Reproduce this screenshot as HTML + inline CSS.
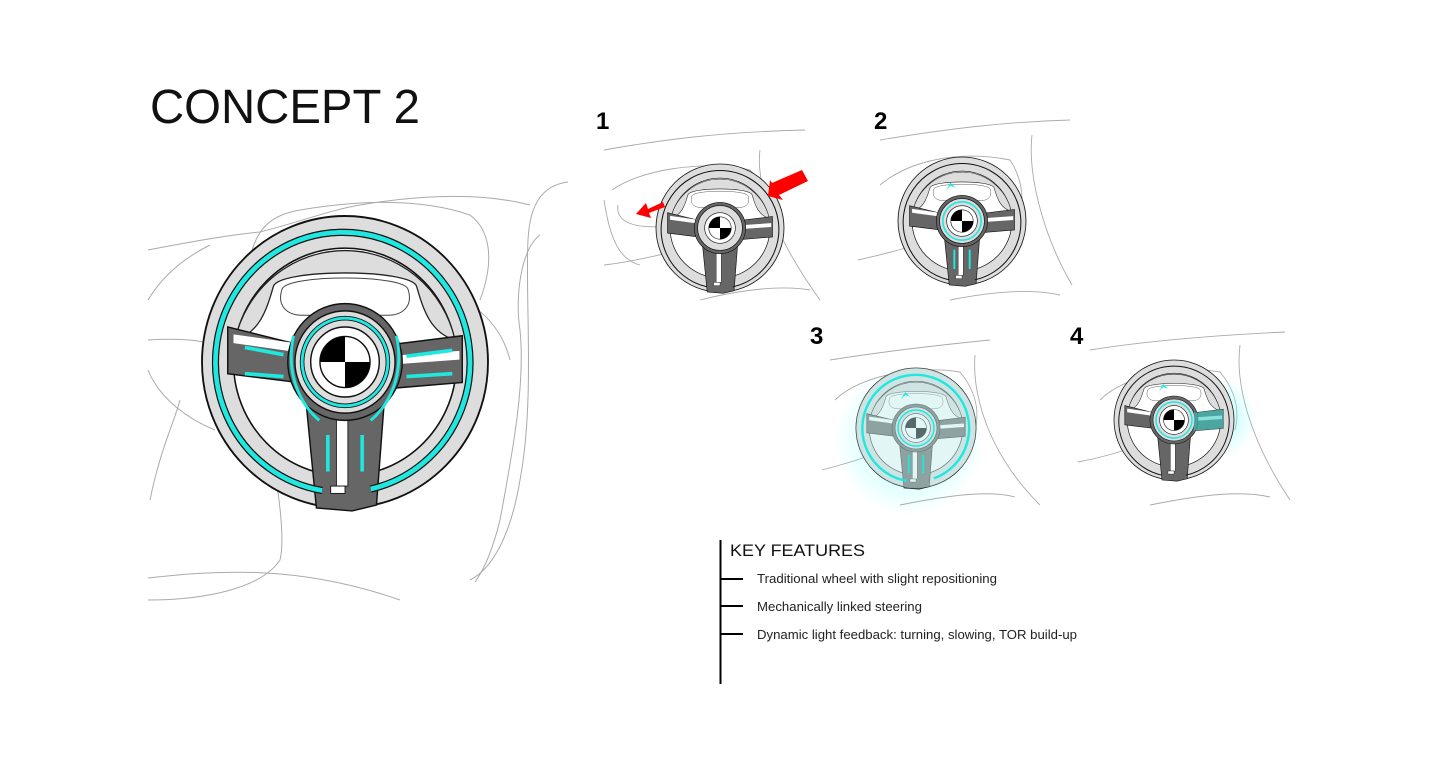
<!DOCTYPE html>
<html><head><meta charset="utf-8"><style>
html,body{margin:0;padding:0;background:#fff;}
svg{display:block;}
text{font-family:"Liberation Sans",sans-serif;}
</style></head><body>
<svg width="1440" height="760" viewBox="0 0 1440 760" xmlns="http://www.w3.org/2000/svg">
<defs>
  <radialGradient id="glow" cx="50%" cy="50%" r="50%">
    <stop offset="0" stop-color="#5ff" stop-opacity="0.5"/>
    <stop offset="1" stop-color="#5ff" stop-opacity="0"/>
  </radialGradient>
  <g id="wheel">
    <circle r="100" fill="#ddd" stroke="#111" stroke-width="1.3"/>
    <circle r="78" fill="#fff" stroke="#111" stroke-width="1.1"/>
    <path d="M-77,-15 C-60,-20 -55,-35 -50,-52 C-45,-64 45,-64 50,-52 C55,-35 60,-20 77,-15 A79 79 0 0 0 -77 -15 Z" fill="#ddd" stroke="#222" stroke-width="0.9"/>
    <path d="M-44,-50 C-40,-60 40,-60 44,-50 C48,-38 40,-32 30,-32 L-30,-32 C-40,-32 -48,-38 -44,-50 Z" fill="#fff" stroke="#444" stroke-width="0.7"/>
    <path d="M-82,-24 L-33,-12 L-33,14 L-82,8 Z" fill="#666" stroke="#111" stroke-width="1"/>
    <rect x="-78" y="-8" width="40" height="6" fill="#fff" transform="skewY(8)"/>
    <path d="M33,-12 L82,-18 L82,14 L33,18 Z" fill="#666" stroke="#111" stroke-width="1"/>
    <rect x="38" y="-2" width="42" height="6" fill="#fff" transform="skewY(-4)"/>
    <path d="M-28,20 L28,20 L22,98 L5,102 L-20,100 Z" fill="#666" stroke="#111" stroke-width="1"/>
    <rect x="-6" y="30" width="8" height="55" fill="#fff" stroke="#111" stroke-width="0.6"/>
    <rect x="-10" y="85" width="10" height="5" fill="#fff" stroke="#111" stroke-width="0.6"/>
    <circle r="40" fill="#666" stroke="#111" stroke-width="1"/>
    <circle r="35" fill="#ddd" stroke="#111" stroke-width="1"/>
    <circle r="24" fill="#fff" stroke="#111" stroke-width="1"/>
    <circle r="17.5" fill="#fff" stroke="#111" stroke-width="1"/>
    <path d="M0,0 L0,-17.5 A17.5 17.5 0 0 0 -17.5 0 Z M0,0 L17.5,0 A17.5 17.5 0 0 1 0 17.5 Z" fill="#000"/>
  </g>
</defs>

<text x="150" y="123" font-size="48" fill="#111" textLength="270" lengthAdjust="spacingAndGlyphs">CONCEPT 2</text>

<g fill="none" stroke="#aaa" stroke-width="1">
  <path d="M148,250 C200,240 230,235 260,232 C300,222 330,210 360,205 C420,195 480,192 530,205"/>
  <path d="M250,260 C255,230 270,215 300,210 C360,200 420,198 470,215 C490,230 495,260 480,300"/>
  <path d="M148,340 C180,338 200,340 215,345"/>
  <path d="M148,300 C160,280 180,260 210,245"/>
  <path d="M148,370 C160,400 190,420 215,430"/>
  <path d="M270,440 C280,500 285,540 280,560 C260,590 200,600 148,600"/>
  <path d="M148,578 C220,570 300,565 400,600"/>
  <path d="M568,182 C545,185 530,200 528,240 C525,300 535,400 520,480 C510,540 490,570 470,580"/>
  <path d="M540,235 C520,250 515,300 520,330 C525,380 515,440 500,520 C490,560 480,575 475,582"/>
  <path d="M150,500 C160,450 175,420 180,400"/>
  <path d="M440,290 C470,300 500,320 510,360"/>
</g>

<g transform="translate(345,362) scale(1.43,1.46)">
  <use href="#wheel"/>
  <path d="M-16,88 A89 89 0 1 1 18 87" fill="none" stroke="#111" stroke-width="5"/>
  <path d="M-16,88 A89 89 0 1 1 18 87" fill="none" stroke="#1ee8e0" stroke-width="3.3"/>
  <circle r="30" fill="none" stroke="#111" stroke-width="3.2"/>
  <circle r="30" fill="none" stroke="#1ee8e0" stroke-width="2"/>
  <path d="M-70,-10 L-43,-5 M-70,8 L-43,10 M43,-4 L75,-8 M43,10 L75,8 M-12,50 L-12,75 M12,50 L12,75" stroke="#1ee8e0" stroke-width="2.5"/>
  <path d="M-36,-18 C-42,10 -30,30 -18,40 M36,-18 C42,10 30,30 18,40" fill="none" stroke="#1ee8e0" stroke-width="2"/>
</g>

<g font-size="24" fill="#000">
  <text x="596" y="129" font-weight="900">1</text>
  <text x="874" y="129" font-weight="900">2</text>
  <text x="810" y="344" font-weight="900">3</text>
  <text x="1070" y="344" font-weight="900">4</text>
</g>

<g fill="none" stroke="#aaa" stroke-width="0.9">
  <path d="M604,150 C660,140 720,132 805,130"/>
  <path d="M612,190 C640,170 700,160 750,170 C765,185 770,200 768,220"/>
  <path d="M618,205 C615,225 640,230 680,225"/>
  <path d="M604,265 C630,262 660,255 680,250"/>
  <path d="M760,150 C756,180 770,230 820,300"/>
  <path d="M604,200 C610,240 620,260 640,265"/>
  <path d="M700,300 C740,290 780,285 810,290"/>
  <path d="M880,140 C940,130 1000,122 1070,120"/>
  <path d="M880,185 C910,160 960,150 1010,160 C1020,175 1025,195 1020,215"/>
  <path d="M1032,135 C1028,170 1040,230 1072,285"/>
  <path d="M858,260 C880,255 900,250 915,245"/>
  <path d="M950,300 C990,292 1030,288 1060,295"/>
  <path d="M830,360 C880,352 940,345 990,340"/>
  <path d="M835,400 C860,375 920,365 960,372 C975,390 980,410 975,430"/>
  <path d="M975,355 C972,390 985,450 1040,505"/>
  <path d="M822,470 C840,465 860,460 870,455"/>
  <path d="M900,505 C950,495 990,490 1015,497"/>
  <path d="M1090,350 C1140,342 1200,336 1285,332"/>
  <path d="M1100,400 C1125,375 1180,365 1220,372 C1235,390 1240,410 1235,430"/>
  <path d="M1240,345 C1235,385 1250,440 1290,500"/>
  <path d="M1078,462 C1100,458 1120,452 1130,448"/>
  <path d="M1150,505 C1200,495 1240,490 1270,497"/>
</g>

<g transform="translate(720,228) scale(0.64)">
  <use href="#wheel"/>
  <path d="M-20,92 A92 92 0 1 1 20 92" fill="none" stroke="#111" stroke-width="1.6"/>
</g>
<path d="M772,183 L802,170 L808,181 L779,195 L783,200 L768,196 L770,180 Z" fill="#f00"/>
<path d="M663,202 L648,209 L646,203 L636,214 L651,218 L649,213 L665,207 Z" fill="#f00"/>

<ellipse cx="975" cy="245" rx="35" ry="30" fill="url(#glow)"/>
<g transform="translate(962,221) scale(0.64)">
  <use href="#wheel"/>
  <path d="M-20,92 A92 92 0 1 1 20 92" fill="none" stroke="#111" stroke-width="1.6"/>
  <circle r="30" fill="none" stroke="#1ee8e0" stroke-width="2.5"/>
  <path d="M-12,45 L-12,75 M12,45 L12,75" stroke="#1ee8e0" stroke-width="3"/>
  <path d="M-25,-48 L-18,-60 L-10,-52 L-18,-55 Z" fill="#1ee8e0"/>
</g>

<circle cx="910" cy="440" r="75" fill="url(#glow)"/>
<g transform="translate(916,428) scale(0.6)">
  <use href="#wheel"/>
  <circle r="100" fill="#bfeee9" opacity="0.45"/>
  <path d="M-16,88 A89 89 0 1 1 30 84" fill="none" stroke="#1ee8e0" stroke-width="4"/>
  <circle r="30" fill="none" stroke="#1ee8e0" stroke-width="2.5"/>
  <path d="M-12,45 L-12,75 M12,45 L12,75" stroke="#1ee8e0" stroke-width="3"/>
  <path d="M-25,-48 L-18,-60 L-10,-52 L-18,-55 Z" fill="#1ee8e0"/>
</g>

<ellipse cx="1218" cy="418" rx="38" ry="40" fill="url(#glow)"/>
<g transform="translate(1174,420) scale(0.6)">
  <use href="#wheel"/>
  <path d="M-20,92 A92 92 0 1 1 20 92" fill="none" stroke="#111" stroke-width="1.6"/>
  <circle r="30" fill="none" stroke="#1ee8e0" stroke-width="2.5"/>
  <path d="M33,-12 L82,-18 L82,14 L33,18 Z" fill="#3ccfc6" opacity="0.6"/>
  <path d="M-25,-48 L-18,-60 L-10,-52 L-18,-55 Z" fill="#1ee8e0"/>
</g>

<line x1="720.5" y1="540" x2="720.5" y2="684" stroke="#000" stroke-width="2"/>
<text x="730" y="556" font-size="17" fill="#111" textLength="135" lengthAdjust="spacingAndGlyphs">KEY FEATURES</text>
<g stroke="#000" stroke-width="2">
  <line x1="720" y1="579" x2="743" y2="579"/>
  <line x1="720" y1="606" x2="743" y2="606"/>
  <line x1="720" y1="634" x2="743" y2="634"/>
</g>
<g font-size="12.5" fill="#222">
  <text x="757" y="583" textLength="240" lengthAdjust="spacingAndGlyphs">Traditional wheel with slight repositioning</text>
  <text x="757" y="611" textLength="165" lengthAdjust="spacingAndGlyphs">Mechanically linked steering</text>
  <text x="757" y="639" textLength="320" lengthAdjust="spacingAndGlyphs">Dynamic light feedback: turning, slowing, TOR build-up</text>
</g>
</svg>
</body></html>
